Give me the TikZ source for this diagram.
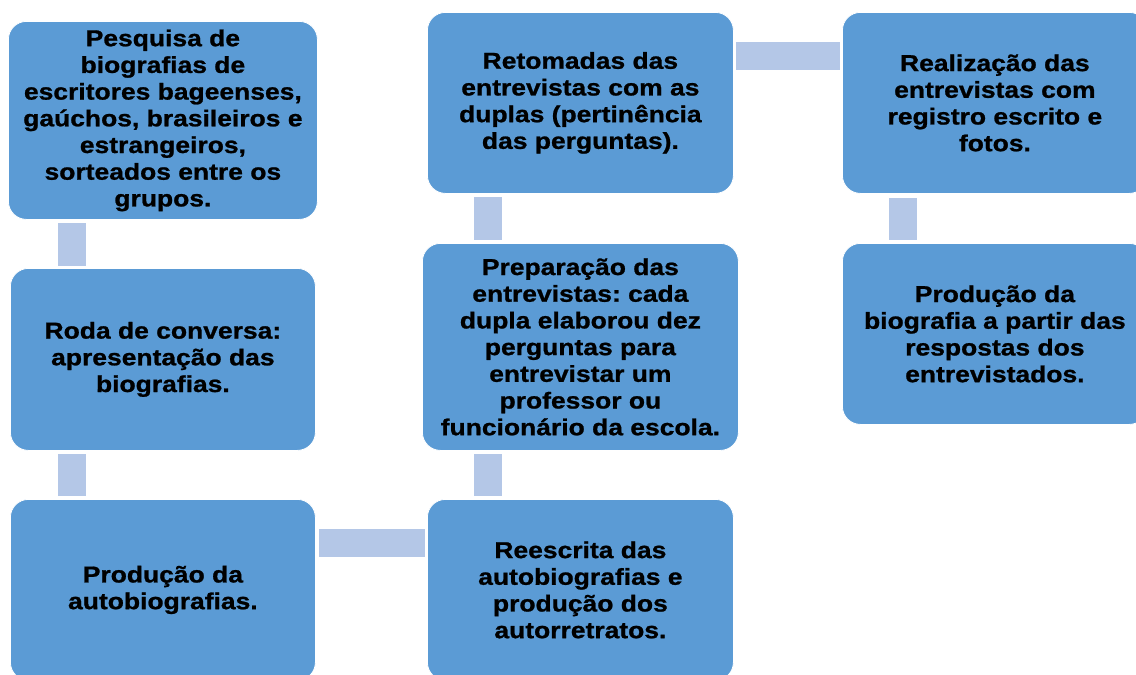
\documentclass[tikz,border=0pt]{standalone}
\usepackage{fontspec}
\setmainfont{Liberation Sans}
\newfontfamily\boxfont[FakeStretch=1.15,FakeBold=1]{Liberation Sans Bold}
\usetikzlibrary{calc}
\definecolor{boxblue}{HTML}{5B9BD5}
\definecolor{connblue}{HTML}{B4C7E7}
\frenchspacing
\tikzset{
  box/.style={rectangle, rounded corners=18pt, fill=boxblue, draw=white, line width=0.8pt,
    anchor=north west, inner sep=0pt, align=center,
    font=\boxfont\fontsize{23}{26.7}\selectfont, text=black},
  conn/.style={fill=connblue}
}
\begin{document}
\begin{tikzpicture}[x=1pt,y=-1pt]
\useasboundingbox (0,0) rectangle (1136,675);
\node[box, minimum width=309pt, minimum height=198pt] (b1) at (8,21)
  {Pesquisa de\\biografias de\\escritores bageenses,\\gaúchos, brasileiros e\\estrangeiros,\\sorteados entre os\\grupos.};
\node[box, minimum width=305pt, minimum height=182pt] (b2) at (10,268)
  {Roda de conversa:\\apresentação das\\biografias.};
\node[box, minimum width=305pt, minimum height=181pt] (b3) at (10,499)
  {Produção da\\autobiografias.};
\node[box, minimum width=306pt, minimum height=181pt] (b4) at (427,499)
  {Reescrita das\\autobiografias e\\produção dos\\autorretratos.};
\node[box, minimum width=316pt, minimum height=207pt] (b5) at (422,243)
  {Preparação das\\entrevistas: cada\\dupla elaborou dez\\perguntas para\\entrevistar um\\professor ou\\funcionário da escola.};
\node[box, minimum width=306pt, minimum height=181pt] (b6) at (427,12)
  {Retomadas das\\entrevistas com as\\duplas (pertinência\\das perguntas).};
\node[box, minimum width=305pt, minimum height=181pt] (b7) at (842,12)
  {Realização das\\entrevistas com\\registro escrito e\\fotos.};
\node[box, minimum width=305pt, minimum height=181pt] (b8) at (842,243)
  {Produção da\\biografia a partir das\\respostas dos\\entrevistados.};
% connectors
\fill[conn] ($(b1.south west)+(50,3)$) rectangle ($(b2.north west)+(76,-2)$);
\fill[conn] ($(b2.south west)+(48,3)$) rectangle ($(b3.north west)+(76,-3)$);
\fill[conn] ($(b3.north east)+(3,30)$) rectangle ($(b4.north west)+(-2,58)$);
\fill[conn] ($(b5.south west)+(52,3)$) rectangle ($(b4.north west)+(75,-3)$);
\fill[conn] ($(b6.south west)+(47,3)$) rectangle ($(b5.north west)+(80,-3)$);
\fill[conn] ($(b6.north east)+(2,30)$) rectangle ($(b7.north west)+(-2,58)$);
\fill[conn] ($(b7.south west)+(47,4)$) rectangle ($(b8.north west)+(75,-3)$);
\end{tikzpicture}
\end{document}
